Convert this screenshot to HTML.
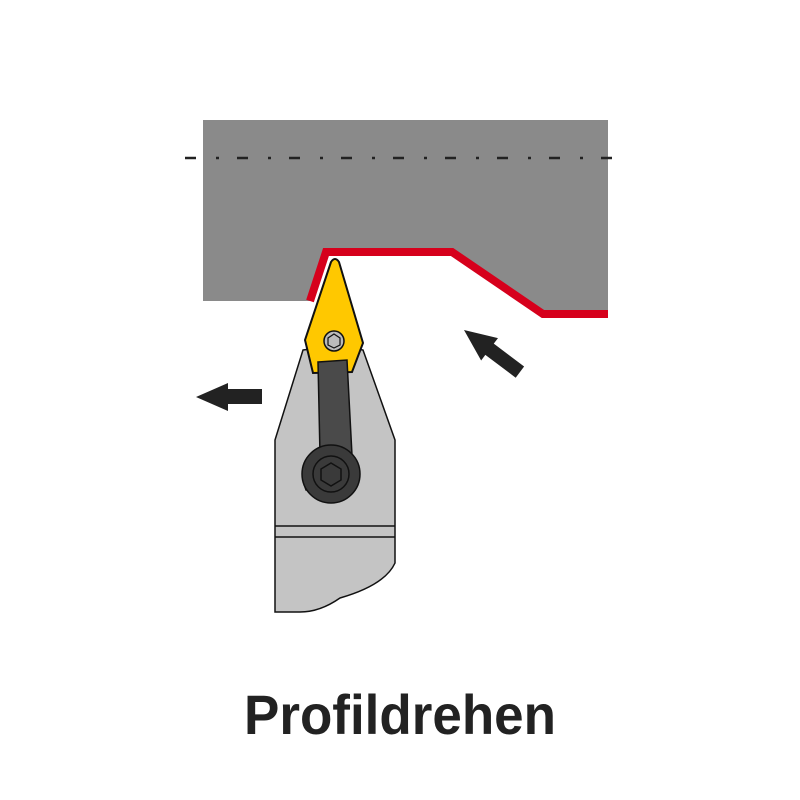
<!DOCTYPE html>
<html><head><style>body{margin:0;background:#fff}svg{display:block}</style></head>
<body>
<svg width="800" height="800" viewBox="0 0 800 800" xmlns="http://www.w3.org/2000/svg">
<rect width="800" height="800" fill="#fff"/>
<polygon points="203,120 608,120 608,314 543,314 452,252 326,252 310,301 203,301" fill="#8a8a8a"/>
<line x1="185" y1="158" x2="616" y2="158" stroke="#222" stroke-width="2.5" stroke-dasharray="11,20,3,18"/>
<polyline points="310,301 326,252 452,252 543,314 608,314" fill="none" stroke="#d6001c" stroke-width="8"/>
<path d="M303,350 L318,348 L352,348 L363,350 L395,440 L395,563 Q385,585 340,598 Q320,612 300,612 L275,612 L275,440 Z" fill="#c4c4c4" stroke="#111" stroke-width="1.5"/>
<line x1="275" y1="526" x2="395" y2="526" stroke="#111" stroke-width="1.5"/>
<line x1="275" y1="537" x2="395" y2="537" stroke="#111" stroke-width="1.5"/>
<path d="M331,262 Q335,256 339,262 L363,343 L352,372 L313,373 L305,340 Z" fill="#ffc800" stroke="#111" stroke-width="2"/>
<circle cx="334" cy="341" r="10" fill="#bbb" stroke="#111" stroke-width="1.5"/>
<polygon points="334,334 340,338 340,345 334,348 328,345 328,338" fill="#bbb" stroke="#111" stroke-width="1.2"/>
<path d="M318,362 L347,360 L352,455 L320,455 Z" fill="#4a4a4a" stroke="#111" stroke-width="1.5"/>
<path d="M308,458 Q300,475 306,490 L312,490 Z" fill="#333" stroke="#111" stroke-width="1.5"/>
<circle cx="331" cy="474" r="29" fill="#3a3a3a" stroke="#111" stroke-width="1.5"/>
<circle cx="331" cy="474" r="18" fill="#3a3a3a" stroke="#111" stroke-width="1.5"/>
<polygon points="331,463 341,469 341,480 331,486 321,480 321,469" fill="#3a3a3a" stroke="#111" stroke-width="1.5"/>
<polygon points="196,397 228,383 228,389 262,389 262,404 228,404 228,411" fill="#222"/>
<g transform="translate(464,330) rotate(37)">
<polygon points="0,0 32,-14 32,-7 70,-7 70,7 32,7 32,14" fill="#222"/>
</g>
<text x="400" y="734" text-anchor="middle" font-family="'Liberation Sans',sans-serif" font-weight="bold" font-size="56" fill="#222" textLength="312" lengthAdjust="spacingAndGlyphs">Profildrehen</text>
</svg>
</body></html>
